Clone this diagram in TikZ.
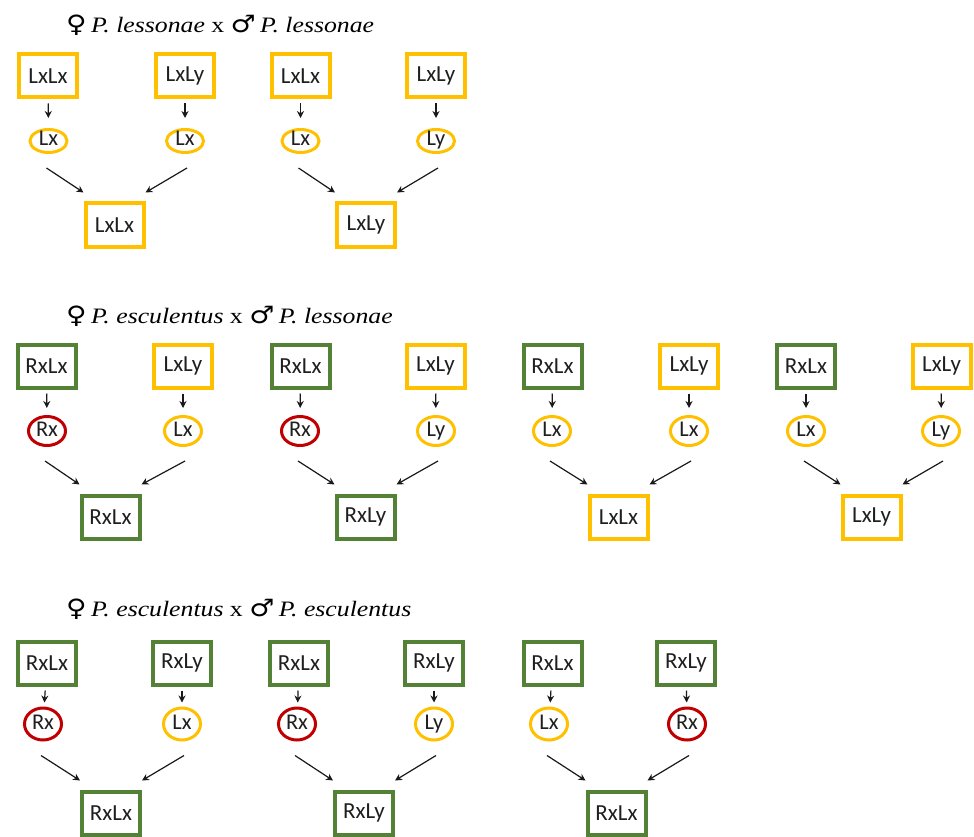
\documentclass[tikz,border=0pt]{standalone}
\usepackage{fontspec}
\usepackage{graphicx}
\setmainfont{Liberation Serif}
\newfontfamily\boxfont{Carlito}
\newfontfamily\gsym{DejaVu Sans}
\usetikzlibrary{arrows.meta,shapes.geometric}
\definecolor{gold}{HTML}{FFC000}
\definecolor{leaf}{HTML}{538135}
\definecolor{wine}{HTML}{C00000}
\tikzset{
  geno/.style={draw=#1, line width=4pt, minimum width=58pt, minimum height=43pt,
    inner sep=0pt, text=black!88, font=\boxfont\fontsize{23}{25}\selectfont},
  lbox/.style={geno=gold},
  rbox/.style={geno=leaf},
  gam/.style={ellipse, draw=#1, line width=3pt, minimum width=37pt, inner sep=0pt,
    text height=11pt, text depth=1pt,
    text=black!88, font=\boxfont\fontsize{22.5}{23}\selectfont},
  lgam/.style={gam=gold},
  rgam/.style={gam=wine},
  hA/.style={minimum height=23pt},
  hB/.style={minimum height=29pt},
  hC/.style={minimum height=32pt},
  arr/.style={-{Stealth[length=7pt,width=7pt]}, line width=1.2pt, black!90},
  ttl/.style={anchor=base west, inner sep=0pt, font=\fontsize{22}{24}\selectfont},
}
\newcommand\vcon[3]{\draw[arr, shorten <=4pt, shorten >=#3] (#1) -- (#2);}
\newcommand\dcon[3]{%
  \draw[arr] ([xshift=-2pt,yshift=-14pt]#1.south) -- ([yshift=9pt]#3.north west);
  \draw[arr] ([xshift=2pt,yshift=-14pt]#2.south) -- ([yshift=9pt]#3.north east);}
\newcommand\msym[1]{{\gsym\fontsize{24}{24}\selectfont #1}}
\newcommand\mtitle[2]{\scalebox{1.17}[1]{\msym{♀}\,\textit{P. #1} x \msym{♂}\,\textit{P. #2}}}
\begin{document}
\begin{tikzpicture}[x=1pt,y=-1pt]
\useasboundingbox (0,0) rectangle (974,837);
% ---------------- Row 1 ----------------
\node[ttl] (t1) at (66,33) {\mtitle{lessonae}{lessonae}};
\node[lbox] (a1p) at (48,76) {LxLx};
\node[lbox] (a1q) at (185,76) {LxLy};
\node[lgam,hA] (a1g) at (48.5,141) {Lx};
\node[lgam,hA] (a1h) at (185,141) {Lx};
\node[lbox] (a1c) at (114.5,225) {LxLx};
\node[lbox] (b1p) at (300.5,76) {LxLx};
\node[lbox] (b1q) at (436,76) {LxLy};
\node[lgam,hA] (b1g) at (300.5,141) {Lx};
\node[lgam,hA] (b1h) at (436,141) {Ly};
\node[lbox] (b1c) at (366,225) {LxLy};
\foreach \f in {a1,b1}{
  \vcon{\f p}{\f g}{10pt}
  \vcon{\f q}{\f h}{10pt}
  \dcon{\f g}{\f h}{\f c}
}
% ---------------- Row 2 ----------------
\node[ttl] (t2) at (66,323) {\mtitle{esculentus}{lessonae}};
\node[rbox] (a2p) at (46.5,366) {RxLx};
\node[lbox] (a2q) at (183,366) {LxLy};
\node[rgam,hB] (a2g) at (47,431) {Rx};
\node[lgam,hB] (a2h) at (183,431) {Lx};
\node[rbox] (a2c) at (110.5,517) {RxLx};
\node[rbox] (b2p) at (300.5,366) {RxLx};
\node[lbox] (b2q) at (435.5,366) {LxLy};
\node[rgam,hB] (b2g) at (300,431) {Rx};
\node[lgam,hB] (b2h) at (436,431) {Ly};
\node[rbox] (b2c) at (365.5,517) {RxLy};
\node[rbox] (c2p) at (552.5,366) {RxLx};
\node[lbox] (c2q) at (689,366) {LxLy};
\node[lgam,hB] (c2g) at (552,431) {Lx};
\node[lgam,hB] (c2h) at (689,431) {Lx};
\node[lbox] (c2c) at (618.5,517) {LxLx};
\node[rbox] (d2p) at (806,366) {RxLx};
\node[lbox] (d2q) at (941.5,366) {LxLy};
\node[lgam,hB] (d2g) at (806,431) {Lx};
\node[lgam,hB] (d2h) at (941,431) {Ly};
\node[lbox] (d2c) at (871.5,517) {LxLy};
\foreach \f in {a2,b2,c2,d2}{
  \vcon{\f p}{\f g}{7pt}
  \vcon{\f q}{\f h}{7pt}
  \dcon{\f g}{\f h}{\f c}
}
% ---------------- Row 3 ----------------
\node[ttl] (t3) at (66,616) {\mtitle{esculentus}{esculentus}};
\node[rbox] (a3p) at (47,663) {RxLx};
\node[rbox] (a3q) at (182,663) {RxLy};
\node[rgam,hC] (a3g) at (43,724) {Rx};
\node[lgam,hC] (a3h) at (182,724) {Lx};
\node[rbox] (a3c) at (111,813) {RxLx};
\node[rbox] (b3p) at (299,663) {RxLx};
\node[rbox] (b3q) at (434,663) {RxLy};
\node[rgam,hC] (b3g) at (297,724) {Rx};
\node[lgam,hC] (b3h) at (434,724) {Ly};
\node[rbox] (b3c) at (364,813) {RxLy};
\node[rbox] (c3p) at (552.5,663) {RxLx};
\node[rbox] (c3q) at (686,663) {RxLy};
\node[lgam,hC] (c3g) at (549,724) {Lx};
\node[rgam,hC] (c3h) at (687,724) {Rx};
\node[rbox] (c3c) at (616.5,813) {RxLx};
\foreach \f in {a3,b3,c3}{
  \vcon{\f p}{\f g}{4pt}
  \vcon{\f q}{\f h}{4pt}
  \dcon{\f g}{\f h}{\f c}
}
\end{tikzpicture}
\end{document}
